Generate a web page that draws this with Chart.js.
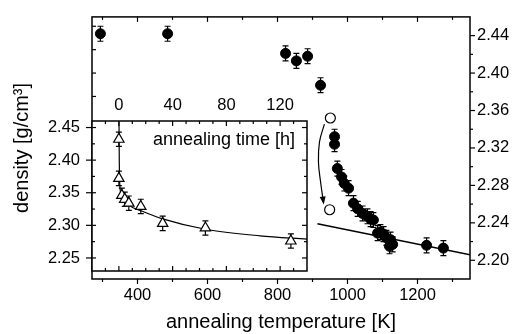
<!DOCTYPE html>
<html lang="en">
<head>
<meta charset="UTF-8">
<title>Density vs annealing temperature</title>
<script src="https://cdn.jsdelivr.net/npm/chart.js"></script>
<style>
    body { margin: 0; background: #fff; }
    .wrap { position: relative; width: 515px; height: 334px; }
    .wrap canvas { position: absolute; left: 0; top: 0; }
</style>
</head>
<body>
<div class="wrap">
    <canvas id="mainChart" width="515" height="334"></canvas>
    <canvas id="insetChart" width="515" height="334"></canvas>
</div>
<script>
// main plot: density vs annealing temperature
const tempK    = [294, 486, 823, 854, 886, 923, 963, 963, 971, 983, 991, 1003, 1017, 1029, 1043, 1057, 1066, 1074, 1086, 1094, 1103, 1111, 1123, 1129, 1120, 1226, 1274];
const densityK = [2.442, 2.442, 2.421, 2.413, 2.418, 2.387, 2.332, 2.324, 2.298, 2.289, 2.282, 2.277, 2.261, 2.255, 2.250, 2.247, 2.244, 2.243, 2.229, 2.230, 2.228, 2.224, 2.222, 2.217, 2.215, 2.216, 2.213];
const openTempK    = [951, 949];
const openDensityK = [2.352, 2.254];
const fitTempK    = [914, 1350];
const fitDensityK = [2.239, 2.206];
const arrowTempK    = [934, 920, 917, 923, 931];
const arrowDensityK = [2.3455, 2.3264, 2.3051, 2.2839, 2.2627];
const errMain = 0.008;

// inset: density vs annealing time
const timeH    = [0, 0, 2.2, 4.4, 7.4, 16.3, 32.6, 64.4, 128];
const densityH = [2.432, 2.372, 2.346, 2.340, 2.334, 2.329, 2.303, 2.296, 2.276];
const curveTimeH    = [0.1, 0.3, 0.7, 2.2, 7.4, 17, 32.6, 64.4, 105, 140];
const curveDensityH = [2.459, 2.400, 2.361, 2.345, 2.331, 2.322, 2.310, 2.294, 2.284, 2.279];
const errInset = 0.011;

// tick labels
const tempTicks  = [400, 600, 800, 1000, 1200];
const tempMinor  = [300, 500, 700, 900, 1100, 1300];
const densTicks  = [2.20, 2.24, 2.28, 2.32, 2.36, 2.40, 2.44];
const densMinor  = [2.22, 2.26, 2.30, 2.34, 2.38, 2.42];
const leftTicks  = [2.45, 2.425, 2.40, 2.375];
const timeTicks  = [0, 40, 80, 120];
const timeMinor  = [-10, 10, 20, 30, 50, 60, 70, 90, 100, 110, 130];
const insetTicks = [2.25, 2.30, 2.35, 2.40, 2.45];
const insetMinor = [2.275, 2.325, 2.375, 2.425];

Chart.defaults.font.family = "'Liberation Sans', Arial, sans-serif";
Chart.defaults.color = '#000';

const tickFont = { size: 16.5 };
const titleFont = { size: 20 };

function pts(xs, ys) {
    return xs.map((x, i) => ({ x: x, y: ys[i] }));
}

function fixTicks(list) {
    return s => { s.ticks = list.map(v => ({ value: v })); };
}

// short tick marks, drawn from an edge in direction dir
function tickMarks(ctx, scale, values, edge, dir, len) {
    values.forEach(v => {
        const p = scale.getPixelForValue(v);
        ctx.beginPath();
        if (scale.isHorizontal()) {
            ctx.moveTo(p, edge);
            ctx.lineTo(p, edge + dir * len);
        } else {
            ctx.moveTo(edge, p);
            ctx.lineTo(edge + dir * len, p);
        }
        ctx.stroke();
    });
}

function errorBars(chart, dsIndex, err, xId, yId) {
    const ctx = chart.ctx;
    const xs = chart.scales[xId], ys = chart.scales[yId];
    ctx.save();
    ctx.strokeStyle = '#000';
    ctx.lineWidth = 1.2;
    chart.data.datasets[dsIndex].data.forEach(p => {
        const x = xs.getPixelForValue(p.x);
        const y1 = ys.getPixelForValue(p.y - err);
        const y2 = ys.getPixelForValue(p.y + err);
        ctx.beginPath();
        ctx.moveTo(x, y1); ctx.lineTo(x, y2);
        ctx.moveTo(x - 3, y1); ctx.lineTo(x + 3, y1);
        ctx.moveTo(x - 3, y2); ctx.lineTo(x + 3, y2);
        ctx.stroke();
    });
    ctx.restore();
}

const mainPlugin = {
    id: 'mainFrame',
    beforeDatasetsDraw(chart) {
        errorBars(chart, 0, errMain, 'x', 'yR');
    },
    afterDatasetsDraw(chart) {
        const { ctx, chartArea: a, scales } = chart;
        ctx.save();
        ctx.strokeStyle = '#000';
        ctx.fillStyle = '#000';
        ctx.lineWidth = 1.5;
        ctx.strokeRect(a.left, a.top, a.right - a.left, a.bottom - a.top);
        ctx.lineWidth = 1.2;
        tickMarks(ctx, scales.x, tempTicks, a.bottom, 1, 5);
        tickMarks(ctx, scales.x, tempMinor, a.bottom, 1, 3);
        tickMarks(ctx, scales.x, tempTicks, a.top, 1, 5);
        tickMarks(ctx, scales.x, tempMinor, a.top, 1, 3);
        tickMarks(ctx, scales.yR, densTicks, a.right, 1, 5);
        tickMarks(ctx, scales.yR, densMinor, a.right, 1, 3);
        tickMarks(ctx, scales.yR, leftTicks, a.left, 1, 4);

        // arrow head at the end of the curved arrow
        const meta = chart.getDatasetMeta(3).data;
        const p1 = meta[meta.length - 2], p2 = meta[meta.length - 1];
        const ang = Math.atan2(p2.y - p1.y, p2.x - p1.x);
        ctx.translate(p2.x, p2.y);
        ctx.rotate(ang);
        ctx.beginPath();
        ctx.moveTo(3, 0);
        ctx.lineTo(-5, -3);
        ctx.lineTo(-5, 3);
        ctx.closePath();
        ctx.fill();
        ctx.restore();
    }
};

new Chart(document.getElementById('mainChart'), {
    type: 'scatter',
    data: {
        datasets: [
            {
                data: pts(tempK, densityK),
                xAxisID: 'x', yAxisID: 'yR',
                pointRadius: 5, pointBackgroundColor: '#000', pointBorderColor: '#000',
                showLine: false
            },
            {
                data: pts(openTempK, openDensityK),
                xAxisID: 'x', yAxisID: 'yR',
                pointRadius: 5, pointBackgroundColor: '#fff', pointBorderColor: '#000', pointBorderWidth: 1.2,
                showLine: false
            },
            {
                data: pts(fitTempK, fitDensityK),
                xAxisID: 'x', yAxisID: 'yR',
                showLine: true, pointRadius: 0, borderColor: '#000', borderWidth: 1.5
            },
            {
                data: pts(arrowTempK, arrowDensityK),
                xAxisID: 'x', yAxisID: 'yR',
                showLine: true, pointRadius: 0, borderColor: '#000', borderWidth: 1.2,
                tension: 0.4
            }
        ]
    },
    options: {
        responsive: false,
        animation: false,
        devicePixelRatio: 1,
        layout: { padding: { top: 15, left: 0, right: 0, bottom: 0 } },
        plugins: { legend: { display: false }, tooltip: { enabled: false } },
        scales: {
            x: {
                type: 'linear', position: 'bottom', min: 270, max: 1350,
                afterBuildTicks: fixTicks(tempTicks),
                afterFit: s => { s.height = 55; },
                grid: { display: false, drawTicks: false },
                border: { display: false },
                ticks: { padding: 7, font: tickFont, maxRotation: 0, callback: v => String(v) },
                title: { display: true, text: 'annealing temperature [K]', font: titleFont, padding: { top: 0, bottom: 0 } }
            },
            yR: {
                type: 'linear', axis: 'y', position: 'right', min: 2.18, max: 2.46,
                afterBuildTicks: fixTicks(densTicks),
                afterFit: s => { s.width = 45; },
                grid: { display: false, drawTicks: false },
                border: { display: false },
                ticks: { padding: 7, font: tickFont, callback: v => v.toFixed(2) }
            },
            yL: {
                type: 'linear', axis: 'y', position: 'left', min: 2.18, max: 2.46,
                afterFit: s => { s.width = 92; },
                grid: { display: false, drawTicks: false },
                border: { display: false },
                ticks: { display: false },
                title: { display: true, text: 'density [g/cm³]', font: titleFont, padding: { top: 10, bottom: 0 } }
            }
        }
    },
    plugins: [mainPlugin]
});

const insetPlugin = {
    id: 'insetFrame',
    beforeDraw(chart) {
        const { ctx, chartArea: a } = chart;
        ctx.save();
        ctx.fillStyle = '#fff';
        ctx.fillRect(a.left, a.top, a.right - a.left, a.bottom - a.top);
        ctx.restore();
    },
    beforeDatasetsDraw(chart) {
        errorBars(chart, 0, errInset, 't', 'd');
    },
    afterDatasetsDraw(chart) {
        const { ctx, chartArea: a, scales } = chart;
        ctx.save();
        ctx.strokeStyle = '#000';
        ctx.lineWidth = 1.5;
        ctx.strokeRect(a.left, a.top, a.right - a.left, a.bottom - a.top);
        ctx.lineWidth = 1.2;
        tickMarks(ctx, scales.t, timeTicks, a.top, 1, 5);
        tickMarks(ctx, scales.t, timeMinor, a.top, 1, 3);
        tickMarks(ctx, scales.t, timeTicks, a.bottom, -1, 5);
        tickMarks(ctx, scales.t, timeMinor, a.bottom, -1, 3);
        tickMarks(ctx, scales.d, insetTicks, a.left, -1, 6);
        tickMarks(ctx, scales.d, insetTicks, a.left, 1, 4);
        tickMarks(ctx, scales.d, insetMinor, a.left, 1, 3);
        tickMarks(ctx, scales.d, insetTicks, a.right, -1, 5);
        tickMarks(ctx, scales.d, insetMinor, a.right, -1, 3);

        ctx.fillStyle = '#000';
        ctx.font = "18px 'Liberation Sans', Arial, sans-serif";
        ctx.textAlign = 'right';
        ctx.textBaseline = 'middle';
        ctx.fillText('annealing time [h]', a.right - 12, a.top + 19);
        ctx.restore();
    }
};

new Chart(document.getElementById('insetChart'), {
    type: 'scatter',
    data: {
        datasets: [
            {
                data: pts(timeH, densityH),
                xAxisID: 't', yAxisID: 'd',
                pointStyle: 'triangle', pointRadius: 6,
                pointBackgroundColor: '#fff', pointBorderColor: '#000', pointBorderWidth: 1.2,
                showLine: false
            },
            {
                data: pts(curveTimeH, curveDensityH),
                xAxisID: 't', yAxisID: 'd',
                showLine: true, pointRadius: 0, borderColor: '#000', borderWidth: 1.2,
                cubicInterpolationMode: 'monotone'
            }
        ]
    },
    options: {
        responsive: false,
        animation: false,
        devicePixelRatio: 1,
        layout: { padding: { top: 96, left: 0, right: 208, bottom: 63 } },
        plugins: { legend: { display: false }, tooltip: { enabled: false } },
        scales: {
            t: {
                type: 'linear', axis: 'x', position: 'top', min: -20, max: 140,
                afterBuildTicks: fixTicks(timeTicks),
                afterFit: s => { s.height = 25; },
                grid: { display: false, drawTicks: false },
                border: { display: false },
                ticks: { padding: 6, font: tickFont, maxRotation: 0, callback: v => String(v) }
            },
            d: {
                type: 'linear', axis: 'y', position: 'left', min: 2.23, max: 2.46,
                afterBuildTicks: fixTicks(insetTicks),
                afterFit: s => { s.width = 92; },
                grid: { display: false, drawTicks: false },
                border: { display: false },
                ticks: { padding: 12, font: tickFont, callback: v => v.toFixed(2) }
            }
        }
    },
    plugins: [insetPlugin]
});
</script>
</body>
</html>
